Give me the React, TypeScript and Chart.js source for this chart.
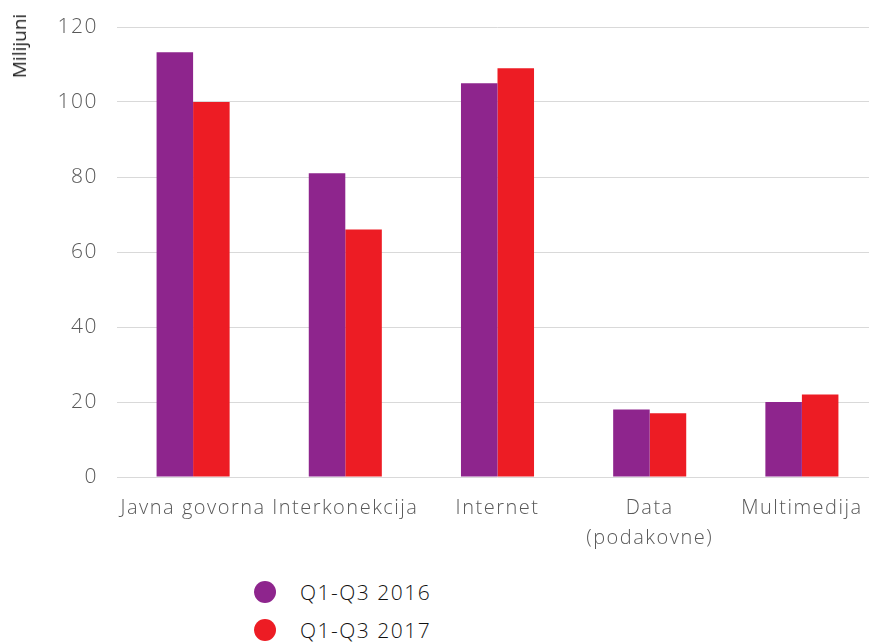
import React, { useEffect, useRef } from "react";
import { Chart, registerables } from "chart.js";

Chart.register(...registerables);

const categories: (string | string[])[] = [
  "Javna govorna",
  "Interkonekcija",
  "Internet",
  ["Data", "(podakovne)"],
  "Multimedija",
];
const series2016 = [113.3, 81, 105, 18, 20];
const series2017 = [100, 66, 109, 17, 22];
const seriesLabels = ["Q1-Q3 2016", "Q1-Q3 2017"];
const seriesColors = ["#8E258D", "#ED1C24"];
const yAxisTitle = "Milijuni";

const FONT = "'Open Sans', Lato, sans-serif";
const LETTER_SPACING = "1.5px";

const spacingPlugin = {
  id: "spacing",
  beforeLayout(chart: any) {
    chart.ctx.letterSpacing = LETTER_SPACING;
  },
  beforeDraw(chart: any) {
    chart.ctx.letterSpacing = LETTER_SPACING;
  },
};

export default function App() {
  const ref = useRef<HTMLCanvasElement | null>(null);

  useEffect(() => {
    if (!ref.current) return;
    const chart = new Chart(ref.current, {
      type: "bar",
      plugins: [spacingPlugin],
      data: {
        labels: categories,
        datasets: [
          {
            label: seriesLabels[0],
            data: series2016,
            backgroundColor: seriesColors[0],
            borderWidth: 0,
            categoryPercentage: 0.48,
            barPercentage: 1.0,
          },
          {
            label: seriesLabels[1],
            data: series2017,
            backgroundColor: seriesColors[1],
            borderWidth: 0,
            categoryPercentage: 0.48,
            barPercentage: 1.0,
          },
        ],
      },
      options: {
        responsive: false,
        animation: false,
        devicePixelRatio: 1,
        layout: { padding: { top: 27, right: 12, left: 0, bottom: 0 } },
        plugins: {
          legend: { display: false },
          tooltip: { enabled: false },
        },
        scales: {
          x: {
            grid: { display: false },
            border: { display: false },
            ticks: {
              color: "#595959",
              font: { family: FONT, size: 20, weight: "300", lineHeight: 1.5 },
              padding: 8,
              maxRotation: 0,
              autoSkip: false,
            },
            afterFit: (scale: any) => {
              scale.height = 83;
              scale.paddingLeft = 0;
              scale.paddingRight = 0;
            },
          },
          y: {
            min: 0,
            max: 120,
            border: { display: false },
            grid: { color: "#d9d9d9", lineWidth: 1, drawTicks: false },
            ticks: {
              stepSize: 20,
              color: "#595959",
              font: { family: FONT, size: 21, weight: "300" },
              padding: 19,
            },
            afterFit: (scale: any) => {
              scale.width = 117;
              scale.paddingTop = 0;
              scale.paddingBottom = 0;
            },
          },
        },
      },
    });
    return () => chart.destroy();
  }, []);

  return (
    <div
      style={{
        position: "fixed",
        left: 0,
        top: 0,
        width: 869,
        height: 643,
        overflow: "hidden",
        background: "#fff",
        fontFamily: FONT,
      }}
    >
      <canvas ref={ref} width={890} height={560} style={{ display: "block" }} />
      <div
        style={{
          position: "absolute",
          left: 19,
          top: 46,
          transform: "translate(-50%, -50%) rotate(-90deg)",
          fontSize: 19,
          color: "#222",
          whiteSpace: "nowrap",
        }}
      >
        {yAxisTitle}
      </div>
      {seriesLabels.map((lab, i) => (
        <div
          key={lab}
          style={{
            position: "absolute",
            left: 254,
            top: 580 + i * 38,
            height: 24,
            display: "flex",
            alignItems: "center",
            whiteSpace: "nowrap",
          }}
        >
          <span
            style={{
              width: 22,
              height: 22,
              borderRadius: "50%",
              background: seriesColors[i],
              display: "inline-block",
              marginRight: 24,
            }}
          />
          <span
            style={{
              fontSize: 21,
              fontWeight: 300,
              color: "#111",
              letterSpacing: LETTER_SPACING,
            }}
          >
            {lab}
          </span>
        </div>
      ))}
    </div>
  );
}
